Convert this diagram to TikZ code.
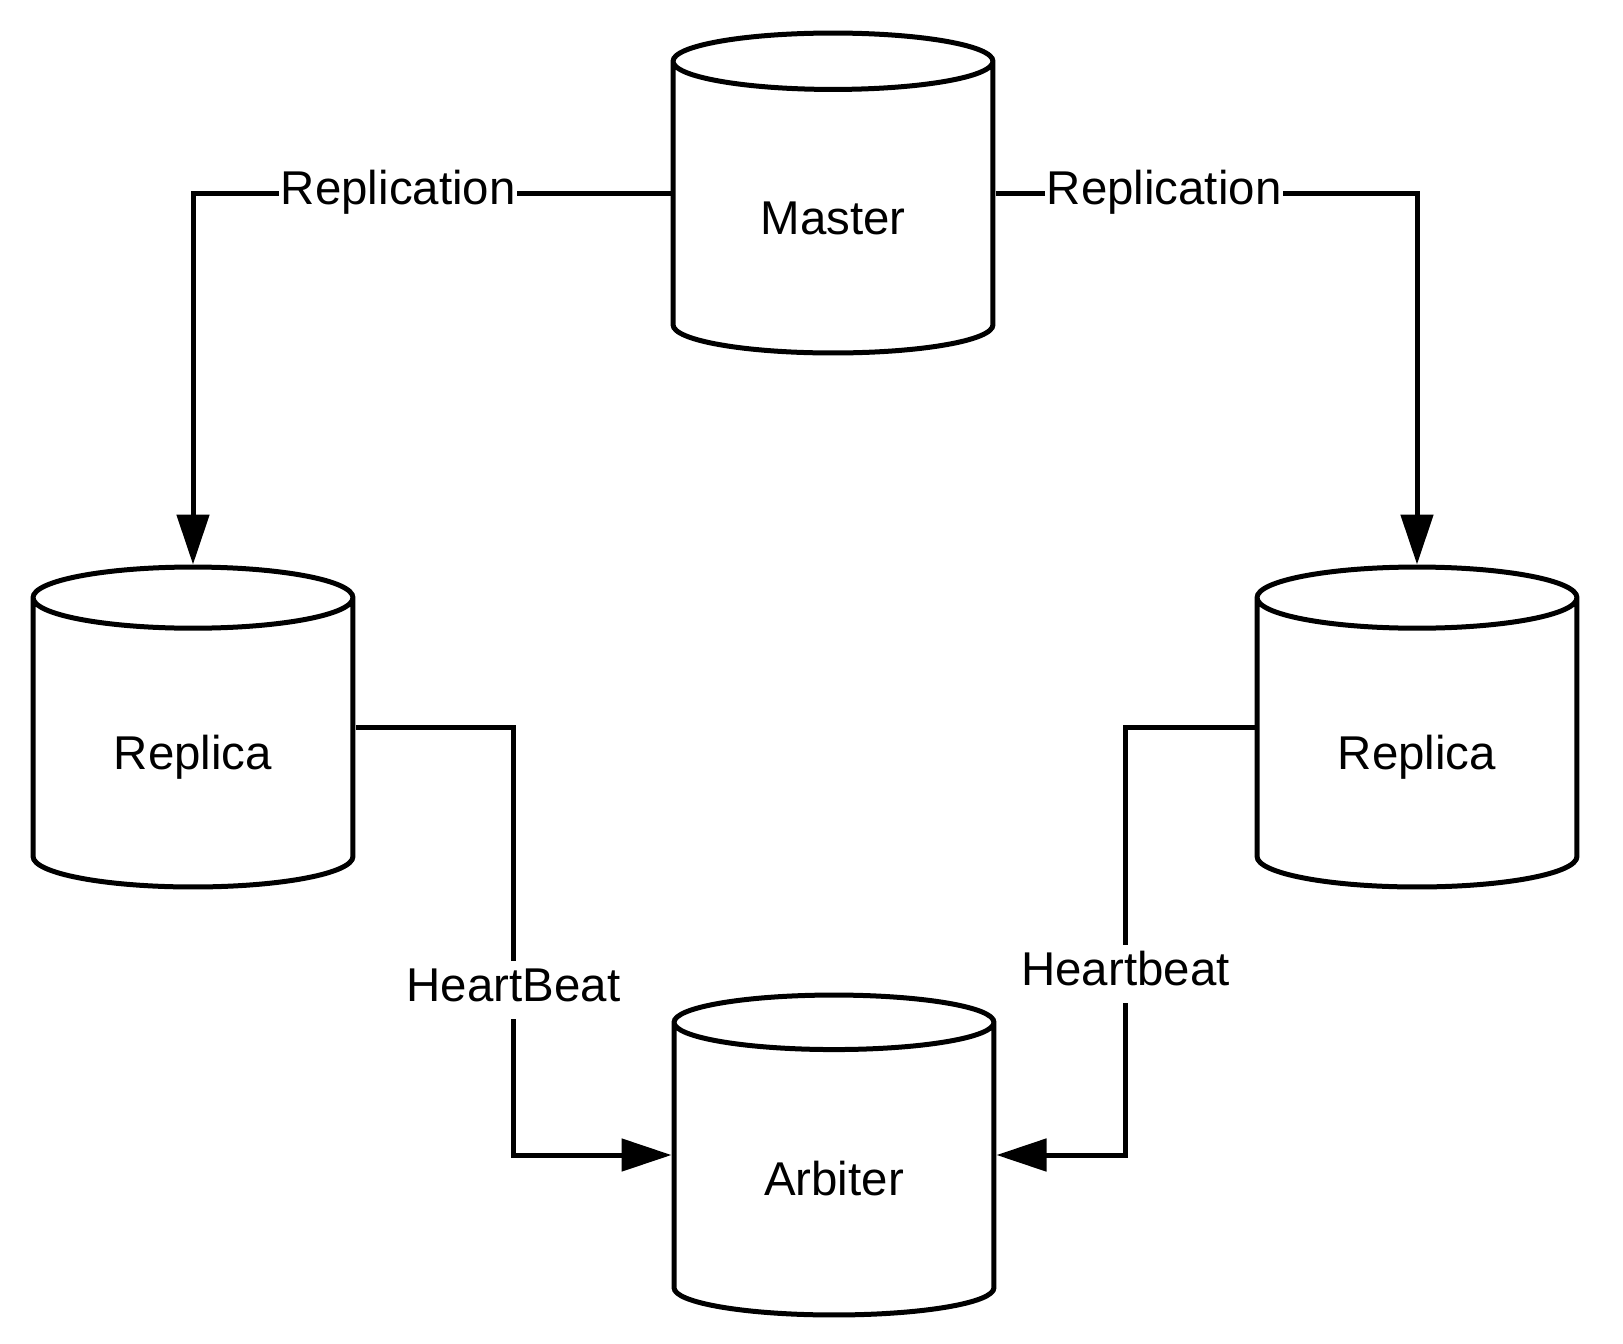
\documentclass[tikz,border=0pt]{standalone}
\usepackage{fontspec}
\setmainfont{Liberation Sans}
\usepackage{tikz}
\usetikzlibrary{
  arrows.meta,
  calc,
  shapes.geometric
}

\begin{document}
\begin{tikzpicture}[
  x=0.02cm, y=-0.02cm,
  db/.style={draw, cylinder, shape border rotate=90, shape aspect=0.36,
             minimum width=6.4cm, minimum height=6.4cm, line width=0.1cm,
             text height=30pt, text depth=5pt,
             fill=white, anchor=shape center, font=\fontsize{27}{32}\selectfont},
  lbl/.style={fill=white, inner xsep=1pt, inner ysep=3.2pt, text height=20pt,
              text depth=7pt, font=\fontsize{27}{32}\selectfont},
  arr/.style={-{Triangle[length=1cm, width=0.64cm]}, line width=0.1cm}
]
\useasboundingbox (0,0) rectangle (1623,1343);

\node[db] at (833, 193) (master) {Master};
\node[db] at (193, 727) (repL) {Replica};
\node[db] at (1417, 727) (repR) {Replica};
\node[db] at (834, 1155) (arb) {Arbiter};

\draw[arr] (master.shape center -| master.west) -| node[lbl, pos=0.285] {Replication} (repL.north);
\draw[arr] (master.shape center -| master.east) -| node[lbl, pos=0.2] {Replication} (repR.north);

% Heartbeats to the arbiter
\draw[arr] (repL.shape center -| repL.east)
  -| ($(repL.shape center -| repL.east)!0.5!(arb.shape center -| arb.west)$)
  |- node[lbl, pos=0.1145] {HeartBeat} (arb.shape center -| arb.west);
\draw[arr] (repR.shape center -| repR.west)
  -| ($(repR.shape center -| repR.west)!0.5!(arb.shape center -| arb.east)$)
  |- node[lbl, pos=0.077] {Heartbeat} (arb.shape center -| arb.east);

\end{tikzpicture}
\end{document}
